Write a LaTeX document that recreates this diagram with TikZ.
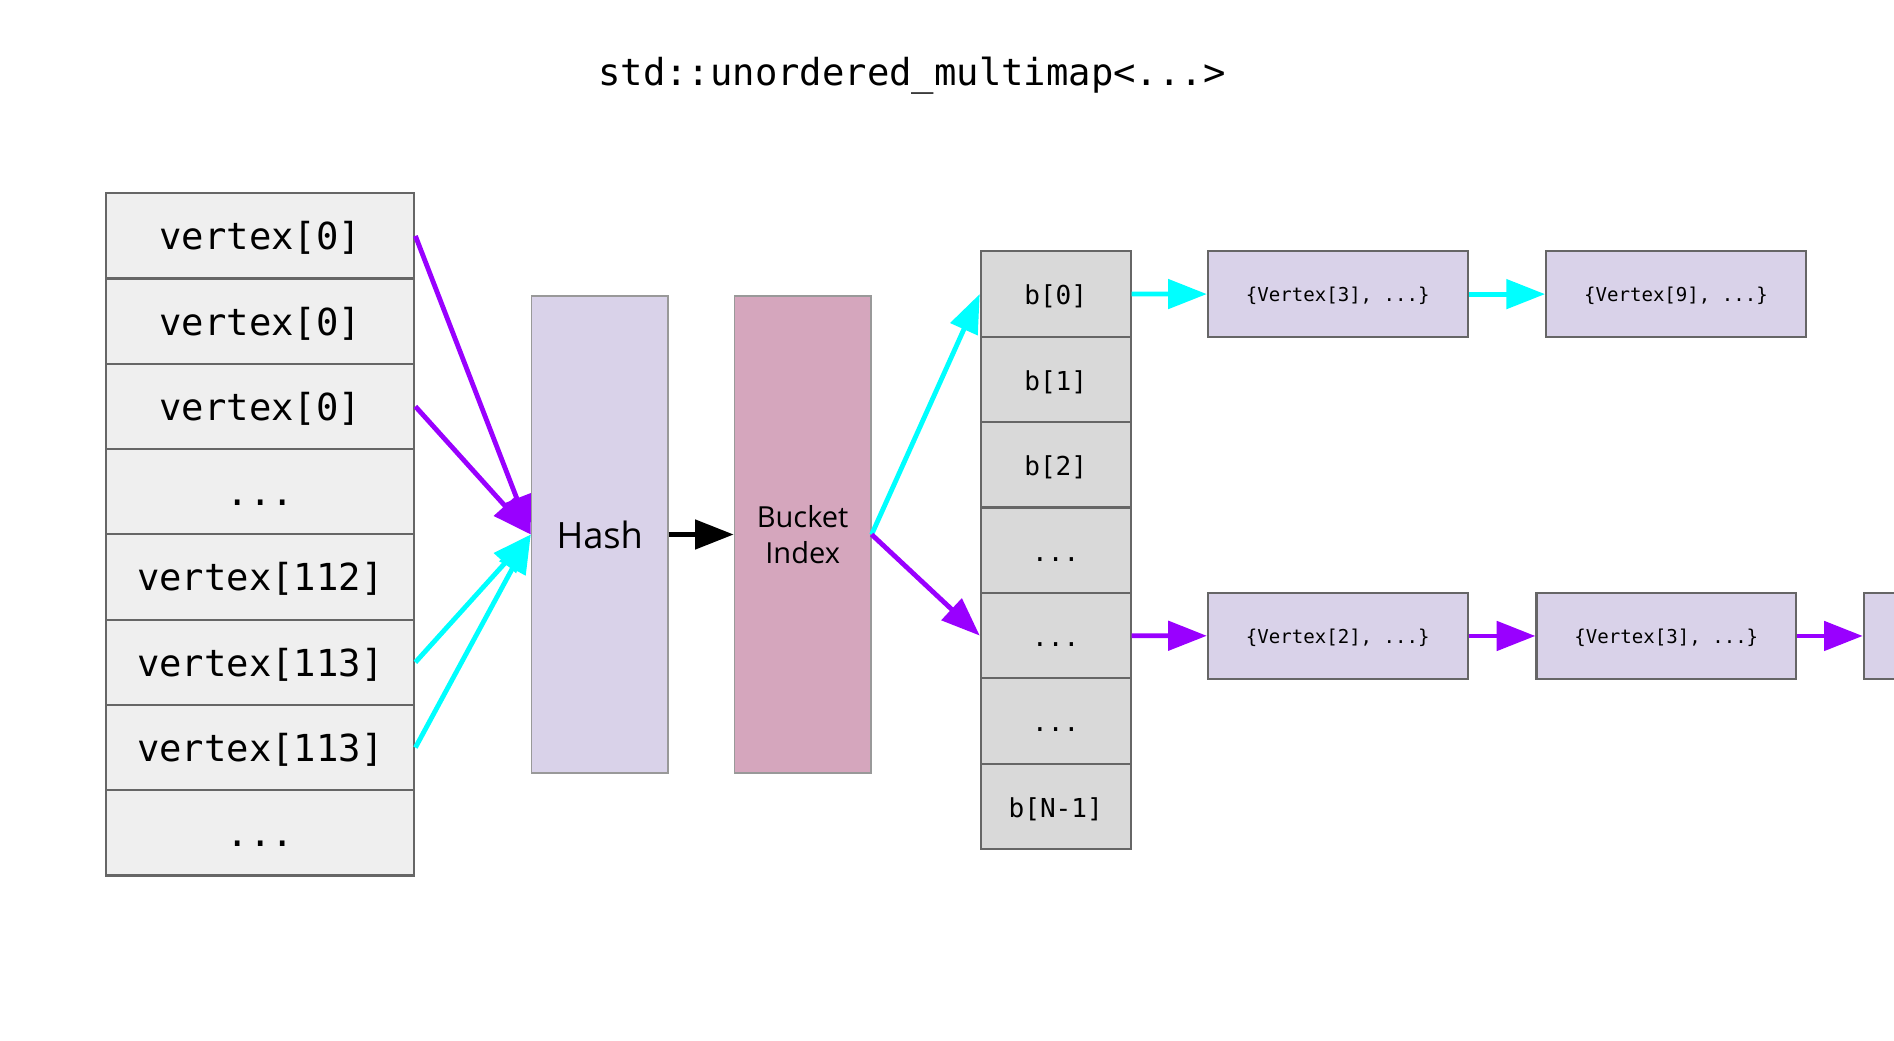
\documentclass[tikz,border=0pt]{standalone}
\usepackage{fontspec}
\setmainfont{Open Sans}
\setmonofont{DejaVu Sans Mono}
\usetikzlibrary{arrows.meta}

\definecolor{lila}{HTML}{9900FF}
\definecolor{tuerkis}{HTML}{00FFFF}
\definecolor{lavendel}{HTML}{D9D2E9}
\definecolor{rosa}{HTML}{D5A6BD}
\definecolor{hellgrau}{HTML}{EFEFEF}
\definecolor{mittelgrau}{HTML}{D9D9D9}
\definecolor{rahmen}{HTML}{666666}

\begin{document}
\begin{tikzpicture}[x=0.5pt,y=-0.5pt,
    zelle/.style={
      draw=rahmen,
      line width=0.9pt,
      fill=hellgrau,
      inner sep=0pt,
      minimum width=127.5pt,
      minimum height=35.3pt,
      text height=12.3pt,
      text depth=0.8pt,
      font=\fontsize{15.4}{18}\selectfont\ttfamily},
    eimer/.style={
      zelle,
      fill=mittelgrau,
      minimum width=62pt,
      text height=9.5pt,
      text depth=0.5pt,
      font=\fontsize{10.8}{13}\selectfont\ttfamily},
    kette/.style={
      zelle,
      fill=lavendel,
      minimum width=107.5pt,
      minimum height=35.5pt,
      text height=6.7pt,
      text depth=0.5pt,
      font=\fontsize{7.9}{10}\selectfont\ttfamily},
    block/.style={
      draw=black!40,
      line width=0.6pt,
      inner sep=0pt,
      minimum width=56.5pt,
      minimum height=197.5pt,
      align=center},
    pfeil/.style={
      line width=2pt,
      -{Triangle[length=16pt,width=12pt]}}
    ]

  \useasboundingbox (0,0) rectangle (1568,861);

  \node at (755,63) (titel) [font=\fontsize{15.4}{18}\selectfont\ttfamily] {std::unordered\_multimap<...>};

  % Eingabe
  \node at (215.5,195.3) (vert0) [zelle] {vertex[0]};
  \node at (215.5,265.9) (vert1) [zelle] {vertex[0]};
  \node at (215.5,336.5) (vert2) [zelle] {vertex[0]};
  \node at (215.5,407.1) (vert3) [zelle] {...};
  \node at (215.5,477.7) (vert4) [zelle] {vertex[112]};
  \node at (215.5,548.3) (vert5) [zelle] {vertex[113]};
  \node at (215.5,618.9) (vert6) [zelle] {vertex[113]};
  \node at (215.5,689.5) (vert7) [zelle] {...};

  \node at (496.5,442.5) (hash) [block, fill=lavendel, font=\fontsize{15}{18}\selectfont] {Hash};
  \node at (664.5,442.5) (bidx) [block, fill=rosa, font=\fontsize{12}{15}\selectfont] {Bucket\\Index};

  % Buckets
  \node at (874,243.4) (eimer0) [eimer] {b[0]};
  \node at (874,314.1) (eimer1) [eimer] {b[1]};
  \node at (874,384.8) (eimer2) [eimer] {b[2]};
  \node at (874,455.5) (eimer3) [eimer] {...};
  \node at (874,526.2) (eimer4) [eimer] {...};
  \node at (874,596.9) (eimer5) [eimer] {...};
  \node at (874,667.6) (eimer6) [eimer] {b[N-1]};

  % Ketten
  \node at (1107.5,243.5) (kette00) [kette] {\{Vertex[3], ...\}};
  \node at (1387.5,243.5) (kette01) [kette] {\{Vertex[9], ...\}};

  \node at (1107.5,526.5) (kette40) [kette] {\{Vertex[2], ...\}};
  \node at (1379.5,526.5) (kette41) [kette] {\{Vertex[3], ...\}};
  \node at (1650.5,526.5) (kette42) [kette] {};

  \path [pfeil, lila] (vert0.east) edge [] (hash.west);
  \path [pfeil, lila] (vert2.east) edge [] (hash.west);
  \path [pfeil, tuerkis] (vert5.east) edge [] (hash.west);
  \path [pfeil, tuerkis] (vert6.east) edge [] (hash.west);

  \path [pfeil, black] (hash) edge [] (bidx);

  \path [pfeil, tuerkis] (bidx.east) edge [] (eimer0.west);
  \path [pfeil, lila] (bidx.east) edge [] (eimer4.west);

  \path [pfeil, tuerkis] (eimer0) edge [] (kette00);
  \path [pfeil, tuerkis] (kette00) edge [] (kette01);

  \path [pfeil, lila] (eimer4) edge [] (kette40);
  \path [pfeil, lila] (kette40) edge [] (kette41);
  \path [pfeil, lila] (kette41) edge [] (kette42);

\end{tikzpicture}
\end{document}
